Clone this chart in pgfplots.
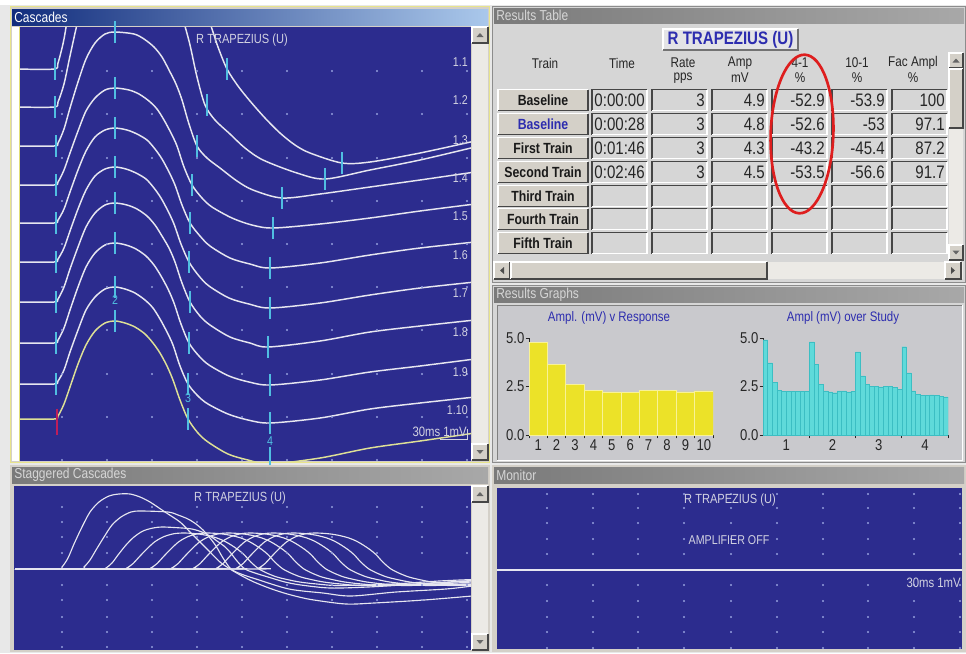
\documentclass[border=0pt]{standalone}
\usepackage{graphicx}
\usepackage{pgfplots}
\pgfplotsset{compat=1.18}
\usepackage{fontspec}
\setmainfont{Liberation Sans}

\definecolor{scope}{RGB}{44,44,142}
\definecolor{winbg}{RGB}{212,208,200}
\definecolor{panelbg}{RGB}{214,214,214}
\definecolor{graphbg}{RGB}{201,201,205}
\definecolor{trc}{RGB}{230,230,240}
\definecolor{trcY}{RGB}{222,224,150}
\definecolor{mk}{RGB}{80,190,225}
\definecolor{dotc}{RGB}{140,150,215}
\definecolor{ttlblue}{RGB}{45,45,175}
\definecolor{barY}{RGB}{236,226,40}
\definecolor{barYl}{RGB}{248,242,150}
\definecolor{barC}{RGB}{95,218,218}
\definecolor{barCd}{RGB}{60,190,195}
\definecolor{ovalred}{RGB}{222,30,30}
\definecolor{tbL}{RGB}{122,122,122}
\definecolor{tbR}{RGB}{168,168,168}
\definecolor{tbT}{RGB}{214,214,214}
\definecolor{dk}{RGB}{70,70,70}
\definecolor{lbl}{RGB}{210,210,225}
\definecolor{track}{RGB}{236,234,230}
\definecolor{outerbg}{RGB}{232,232,232}
\definecolor{casY}{RGB}{232,228,140}
\definecolor{casY2}{RGB}{225,222,120}
\definecolor{tbBL}{RGB}{18,45,125}
\definecolor{tbBR}{RGB}{170,200,235}
\definecolor{boxbg}{RGB}{228,228,230}
\definecolor{curred}{RGB}{190,30,90}

\newcommand{\st}[1]{\scalebox{1}[1.2]{#1}}
\newcommand{\fs}[1]{\fontsize{#1}{#1}\selectfont}
\newcommand{\sunken}[4]{%
  \fill[panelbg] (#1,#2) rectangle (#3,#4);
  \draw[dk, line width=1.1pt] (#1,#4) -- (#1,#2) -- (#3,#2);
  \draw[white, line width=0.8pt] (#3,#2) -- (#3,#4) -- (#1,#4);}
\newcommand{\raised}[4]{%
  \fill[winbg] (#1,#2) rectangle (#3,#4);
  \draw[white, line width=0.9pt] (#1,#4) -- (#1,#2) -- (#3,#2);
  \draw[dk, line width=1.1pt] (#3,#2) -- (#3,#4) -- (#1,#4);}
\newcommand{\uparr}[2]{\fill[black!60] (#1-3.5,#2+2) -- (#1+3.5,#2+2) -- (#1,#2-2) -- cycle;}
\newcommand{\dnarr}[2]{\fill[black!60] (#1-3.5,#2-2) -- (#1+3.5,#2-2) -- (#1,#2+2) -- cycle;}
\newcommand{\lfarr}[2]{\fill[black!70] (#1+2,#2-3.5) -- (#1+2,#2+3.5) -- (#1-2,#2) -- cycle;}
\newcommand{\rtarr}[2]{\fill[black!70] (#1-2,#2-3.5) -- (#1-2,#2+3.5) -- (#1+2,#2) -- cycle;}

\pgfplotsset{
  scopeax/.style={anchor=north west, scale only axis, hide axis, y dir=reverse, clip=true},
  tr/.style={trc, line width=1.1pt, smooth},
  str/.style={trc, line width=0.85pt, smooth},
  gdots/.style={only marks, mark=*, mark size=0.55pt, dotc},
  mks/.style={only marks, mark=|, mark size=8pt, mk, mark options={line width=0.9pt}},
  bargraph/.style={anchor=south west, scale only axis, height=72.75pt,
    ymin=0, ymax=5, axis x line*=bottom, axis y line*=left,
    axis line style={black!85, line width=0.7pt},
    ytick={0,2.5,5}, yticklabels={\st{0.0},\st{2.5},\st{5.0}},
    minor ytick={0,2.5,5},
    tick align=outside, major tick length=0pt, minor tick length=2.5pt,
    tick style={black!85, line width=0.6pt},
    tick label style={font=\fs{9.8}, text=black!85}},
}

\begin{document}
\begin{tikzpicture}[x=0.75pt,y=-0.75pt]
\path[use as bounding box] (0,0) rectangle (966,653);
\fill[outerbg] (0,0) rectangle (966,653);
\fill[white] (0,0) rectangle (966,5);

% ================= CASCADES PANEL =================
\fill[winbg] (10,6) rectangle (490,463);
\draw[casY, line width=1.2pt] (10.5,6.5) rectangle (489.5,462.5);
\shade[left color=tbBL, right color=tbBR] (12,9) rectangle (488,25);
\node[anchor=west, text=white, inner sep=0, font=\fs{9}] at (14,17) {\st{Cascades}};
\fill[scope] (20,27) rectangle (471,461);
\fill[white] (12,27) rectangle (19,461);
\draw[casY2, line width=1pt] (19.5,27) -- (19.5,461);
\fill[track] (472,27) rectangle (488,461);
\raised{472}{27}{488}{43}\uparr{480}{35}
\raised{472}{444}{488}{460}\dnarr{480}{452}

\begin{axis}[scopeax, at={(20,27)}, width=338.25pt, height=325.5pt,
  xmin=20, xmax=471, ymin=27, ymax=461]
\pgfplotsinvokeforeach{71,114,158,201,244,287,330,374,417,460}{
  \addplot[gdots] coordinates {(62,#1)(107,#1)(152,#1)(197,#1)(242,#1)(287,#1)(332,#1)(377,#1)(422,#1)(467,#1)};
}
% trace 1.1
\addplot[tr] coordinates {(18,69)(54,69)(58,63)(64,39)(70,2)(78,-44)(86,-84)(95,-113)(105,-129)(115,-133)(125,-133)(140,-128)(150,-112)(165,-86)(180,-58)(190,-31)(200,-4)(210,23)(218,47)(227,69)(238,86)(250,101)(265,118)(280,133)(295,145)(310,153)(342,163)(370,162)(420,153)(475,141)};
% trace 1.2
\addplot[tr] coordinates {(18,107)(54,107)(58,102)(64,84)(70,56)(78,20)(86,-12)(95,-33)(105,-46)(115,-49)(142,-46)(152,-40)(162,-29)(170,-15)(177,3)(184,23)(190,45)(197,77)(205,105)(215,120)(230,134)(245,148)(263,160)(297,173)(325,179)(370,170)(420,160)(475,147)};
% trace 1.3
\addplot[tr] coordinates {(18,146)(54,146)(58,143)(64,129)(70,108)(78,82)(86,59)(95,43)(105,34)(115,32)(134,34)(144,39)(154,47)(162,57)(169,70)(176,84)(182,100)(189,124)(197,146)(207,158)(220,168)(237,181)(253,190)(282,198)(320,194)(370,187)(420,180)(475,172)};
% trace 1.4
\addplot[tr] coordinates {(18,185)(54,185)(58,182)(64,170)(70,153)(78,131)(86,111)(95,98)(105,90)(115,88)(129,90)(139,94)(149,101)(157,109)(164,120)(171,133)(177,146)(184,167)(192,185)(202,198)(212,207)(232,218)(252,225)(273,228)(320,224)(370,218)(420,211)(475,204)};
% trace 1.5
\addplot[tr] coordinates {(18,223)(54,223)(58,220)(64,209)(70,192)(78,170)(86,151)(95,137)(105,130)(115,128)(127,130)(137,134)(147,140)(155,149)(162,159)(169,172)(175,185)(182,205)(190,223)(200,236)(210,246)(230,258)(250,264)(270,268)(320,263)(370,255)(420,248)(475,242)};
% trace 1.6
\addplot[tr] coordinates {(18,262)(54,262)(58,259)(64,248)(70,231)(78,209)(86,190)(95,176)(105,169)(115,167)(126,169)(136,173)(146,179)(154,188)(161,198)(168,211)(174,224)(181,244)(189,262)(199,276)(209,286)(229,298)(249,304)(270,308)(320,303)(370,295)(420,288)(475,282)};
% trace 1.7
\addplot[tr] coordinates {(18,302)(54,302)(58,299)(64,287)(70,269)(78,247)(86,227)(95,213)(105,205)(115,203)(127,205)(137,209)(147,216)(155,225)(162,236)(169,248)(175,262)(182,283)(190,302)(200,316)(210,325)(230,337)(250,343)(268,347)(320,341)(370,332)(420,326)(475,320)};
% trace 1.8
\addplot[tr] coordinates {(18,343)(54,343)(58,340)(64,328)(70,310)(78,287)(86,267)(95,253)(105,245)(115,243)(126,245)(136,249)(146,256)(154,265)(161,276)(168,289)(174,303)(181,324)(189,343)(199,356)(209,365)(229,376)(249,382)(270,385)(320,380)(370,372)(420,366)(475,359)};
% trace 1.9
\addplot[tr] coordinates {(18,384)(54,384)(58,381)(64,370)(70,352)(78,330)(86,310)(95,297)(105,289)(115,287)(125,289)(135,293)(145,300)(153,308)(160,319)(167,332)(173,345)(180,366)(188,384)(198,396)(208,404)(228,414)(248,420)(270,423)(320,418)(370,409)(420,403)(475,397)};
% trace 1.10 (highlighted)
\addplot[tr, trcY] coordinates {(18,419)(54,419)(58,416)(64,404)(70,387)(78,364)(86,345)(95,331)(105,323)(115,321)(125,323)(135,327)(145,334)(153,343)(160,353)(167,366)(173,380)(180,400)(188,419)(198,433)(208,442)(228,454)(248,460)(270,464)(320,458)(370,448)(420,441)(475,433)};
% cursors
\addplot[mks] coordinates {(55,69)(55,107)(56,146)(56,185)(56,223)(56,262)(56,302)(56,343)(56,384)};
\addplot[mks] coordinates {(115,32)(115,88)(115,128)(115,167)(115,203)(115,243)(115,287)(115,321)};
\addplot[mks] coordinates {(227,69)(207,105)(197,146)(192,185)(190,223)(189,262)(190,302)(189,343)(188,384)(188,419)};
\addplot[mks] coordinates {(342,163)(325,179)(282,198)(273,228)(270,268)(270,308)(268,347)(270,385)(270,423)(270,458)};
\addplot[only marks, mark=|, mark size=10pt, curred, mark options={line width=1pt}] coordinates {(57,422)};
\end{axis}

\node[text=lbl, font=\fs{8.3}, inner sep=0] at (242,40) {\st{R TRAPEZIUS (U)}};
\foreach \lab/\yy in {1.1/62,1.2/100,1.3/140,1.4/178,1.5/216,1.6/255,1.7/293,1.8/332,1.9/372,1.10/410}
  \node[anchor=east, text=lbl, font=\fs{8}, inner sep=0] at (468,\yy) {\st{\lab}};
\node[anchor=east, text=lbl, font=\fs{8.5}, inner sep=0] at (467,432) {\st{30ms 1mV}};
\draw[lbl, line width=0.7pt] (440,439) -- (467,439) -- (467,429);
\node[text=mk, font=\fs{8}, inner sep=0] at (115,300) {\st{2}};
\node[text=mk, font=\fs{8}, inner sep=0] at (188,398) {\st{3}};
\node[text=mk, font=\fs{8}, inner sep=0] at (270,441) {\st{4}};

% ================= STAGGERED CASCADES =================
\fill[winbg] (10,465) rectangle (490,652);
\shade[left color=tbL, right color=tbR] (12,467) rectangle (488,483);
\node[anchor=west, text=tbT, inner sep=0, font=\fs{9}] at (14,475) {\st{Staggered Cascades}};
\fill[scope] (14,486) rectangle (471,650);
\fill[track] (472,486) rectangle (488,650);
\raised{472}{486}{488}{502}\uparr{480}{494}
\raised{472}{634}{488}{650}\dnarr{480}{642}

\begin{axis}[scopeax, at={(14,486)}, width=342.75pt, height=123pt,
  xmin=14, xmax=471, ymin=486, ymax=650]
\pgfplotsinvokeforeach{507,522,537,553,585,600,617,632,647}{
  \addplot[gdots] coordinates {(62,#1)(107,#1)(152,#1)(197,#1)(242,#1)(287,#1)(332,#1)(377,#1)(422,#1)(467,#1)};
}
\addplot[str] coordinates {(15,569)(58,569)(62,567)(68,558)(74,544)(82,527)(90,512)(99,502)(109,496)(119,494)(130,494)(140,497)(150,502)(165,512)(180,522)(190,532)(200,542)(210,552)(220,562)(230,569)(242,576)(254,582)(269,588)(284,593)(299,597)(314,600)(346,604)(374,603)(424,600)(472,596)};
\addplot[str] coordinates {(15,569)(80,569)(84,567)(90,560)(96,550)(104,537)(112,525)(121,517)(131,512)(141,511)(168,512)(178,515)(188,519)(196,524)(203,530)(210,538)(216,546)(223,558)(231,569)(241,574)(256,579)(289,589)(323,593)(351,596)(396,592)(446,589)(472,586)};
\addplot[str] coordinates {(15,569)(102,569)(106,568)(112,563)(118,555)(126,545)(134,537)(143,531)(153,528)(163,527)(182,528)(192,529)(202,532)(210,536)(217,541)(224,546)(230,552)(237,561)(245,569)(255,573)(268,577)(285,582)(301,585)(330,588)(368,587)(418,584)(472,581)};
\addplot[str] coordinates {(15,569)(123,569)(127,567.9)(133,563.6)(139,557.1)(147,548.8)(155,541.6)(164,536.6)(174,533.7)(184,533)(196,533.7)(206,535.2)(216,537.7)(224,540.9)(231,544.9)(238,549.6)(244,554.6)(251,562.2)(259,569)(269,574)(279,577.6)(299,581.9)(319,584.2)(339,585.5)(389,584.2)(439,581)(472,579.5)};
\addplot[str] coordinates {(15,569)(147,569)(151,567.9)(157,563.6)(163,557.1)(171,548.8)(179,541.6)(188,536.6)(198,533.7)(208,533)(220,533.7)(230,535.2)(240,537.7)(248,540.9)(255,544.9)(262,549.6)(268,554.6)(275,562.2)(283,569)(293,574)(303,577.6)(323,581.9)(343,584.2)(363,585.5)(413,584.2)(463,581)(472,580.7)};
\addplot[str] coordinates {(15,569)(168,569)(172,567.9)(178,563.6)(184,557.1)(192,548.8)(200,541.6)(209,536.6)(219,533.7)(229,533)(241,533.7)(251,535.2)(261,537.7)(269,540.9)(276,544.9)(283,549.6)(289,554.6)(296,562.2)(304,569)(314,574)(324,577.6)(344,581.9)(364,584.2)(384,585.5)(434,584.2)(472,582)};
\addplot[str] coordinates {(15,569)(190,569)(194,567.9)(200,563.6)(206,557.1)(214,548.8)(222,541.6)(231,536.6)(241,533.7)(251,533)(263,533.7)(273,535.2)(283,537.7)(291,540.9)(298,544.9)(305,549.6)(311,554.6)(318,562.2)(326,569)(336,574)(346,577.6)(366,581.9)(386,584.2)(406,585.5)(456,584.2)(472,583.8)};
\addplot[str] coordinates {(15,569)(213,569)(217,567.9)(223,563.6)(229,557.1)(237,548.8)(245,541.6)(254,536.6)(264,533.7)(274,533)(286,533.7)(296,535.2)(306,537.7)(314,540.9)(321,544.9)(328,549.6)(334,554.6)(341,562.2)(349,569)(359,574)(369,577.6)(389,581.9)(409,584.2)(429,585.5)(472,584.5)};
\addplot[str] coordinates {(15,569)(233,569)(237,567.9)(243,563.6)(249,557.1)(257,548.8)(265,541.6)(274,536.6)(284,533.7)(294,533)(306,533.7)(316,535.2)(326,537.7)(334,540.9)(341,544.9)(348,549.6)(354,554.6)(361,562.2)(369,569)(379,574)(389,577.6)(409,581.9)(429,584.2)(449,585.5)(472,585.3)};
\addplot[str] coordinates {(15,569)(255,569)(259,567.9)(265,563.6)(271,557.1)(279,548.8)(287,541.6)(296,536.6)(306,533.7)(316,533)(328,533.7)(338,535.2)(348,537.7)(356,540.9)(363,544.9)(370,549.6)(376,554.6)(383,562.2)(391,569)(401,574)(411,577.6)(431,581.9)(451,584.2)(472,585.3)};
\end{axis}
\node[text=lbl, font=\fs{8.3}, inner sep=0] at (240,498) {\st{R TRAPEZIUS (U)}};

% ================= RESULTS TABLE =================
\fill[panelbg] (492,6) rectangle (966,283);
\draw[black!45] (492.5,6.5) rectangle (965.5,282.5);
\shade[left color=tbL, right color=tbR] (494,8) rectangle (964,23);
\node[anchor=west, text=tbT, inner sep=0, font=\fs{9}] at (496,15.5) {\st{Results Table}};
\fill[boxbg] (663,29) rectangle (798,50);
\draw[white, line width=0.8pt] (663,50) -- (663,29) -- (798,29);
\draw[black!55, line width=0.8pt] (798,29) -- (798,50) -- (663,50);
\node[text=ttlblue, font=\bfseries\fs{11.3}, inner sep=0] at (730.5,40) {\st{R TRAPEZIUS (U)}};
\begin{scope}[every node/.style={font=\fs{8.8}, text=black!85, inner sep=0}]
\node at (545,63) {\st{Train}};
\node at (622,63) {\st{Time}};
\node at (683,63) {\st{Rate}}; \node at (683,78) {\st{pps}};
\node at (740,63) {\st{Amp}}; \node at (740,78) {\st{mV}};
\node at (800,63) {\st{4-1}}; \node at (800,78) {\st{\%}};
\node at (857,63) {\st{10-1}}; \node at (857,78) {\st{\%}};
\node at (913,63) {\st{Fac Ampl}}; \node at (913,78) {\st{\%}};
\end{scope}
\foreach \yc in {100,124,148,172,196,219,243}{
  \raised{498}{\yc-10.5}{588}{\yc+10.5}
  \foreach \xa/\xb in {592/647,652/707,712/767,772/827,832/887,892/947}{
    \sunken{\xa}{\yc-10.5}{\xb}{\yc+10.5}
  }
}
\foreach \yc/\tt in {100/Baseline,148/First Train,172/Second Train,196/Third Train,219/Fourth Train,243/Fifth Train}
  \node[font=\bfseries\fs{9.2}, inner sep=0, text=black!90] at (543,\yc) {\st{\tt}};
\node[font=\bfseries\fs{9.2}, text=ttlblue, inner sep=0] at (543,124) {\st{Baseline}};
\foreach \yc/\vA/\vB/\vC/\vD/\vE/\vF in {100/0:00:00/3/4.9/-52.9/-53.9/100, 124/0:00:28/3/4.8/-52.6/-53/97.1, 148/0:01:46/3/4.3/-43.2/-45.4/87.2, 172/0:02:46/3/4.5/-53.5/-56.6/91.7}{
  \begin{scope}[every node/.style={anchor=east, font=\fs{11.3}, text=black!85, inner sep=0}]
  \node at (645,\yc) {\st{\vA}};
  \node at (705,\yc) {\st{\vB}};
  \node at (765,\yc) {\st{\vC}};
  \node at (825,\yc) {\st{\vD}};
  \node at (885,\yc) {\st{\vE}};
  \node at (945,\yc) {\st{\vF}};
  \end{scope}
}
% scrollbars
\fill[track] (949,53) rectangle (963,260);
\raised{949}{53}{963}{68}\uparr{956}{60.5}
\raised{949}{69}{963}{128}
\raised{949}{245}{963}{260}\dnarr{956}{252.5}
\fill[track] (494,262) rectangle (963,279);
\raised{494}{262}{510}{279}\lfarr{502}{270.5}
\raised{511}{262}{767}{279}
\raised{945}{262}{961}{279}\rtarr{953}{270.5}
% red oval
\draw[ovalred, line width=2pt, rotate around={-2:(802,134)}] (802,134) ellipse [x radius=23.5pt, y radius=59.5pt];

% ================= RESULTS GRAPHS =================
\fill[panelbg] (492,285) rectangle (966,463);
\draw[black!45] (492.5,285.5) rectangle (965.5,462.5);
\shade[left color=tbL, right color=tbR] (494,287) rectangle (964,302);
\node[anchor=west, text=tbT, inner sep=0, font=\fs{9}] at (496,294.5) {\st{Results Graphs}};
\fill[graphbg] (497,305) rectangle (962,460);
\draw[black!50] (497,460) -- (497,305) -- (962,305);
\draw[white] (962,305) -- (962,460) -- (497,460);
\node[text=ttlblue, font=\fs{8.6}, inner sep=0] at (609,318) {\st{Ampl. (mV) v Response}};
\node[text=ttlblue, font=\fs{8.6}, inner sep=0] at (843,318) {\st{Ampl (mV) over Study}};

\begin{scope}[shift={(529,435)}]
\begin{axis}[bargraph, at={(0pt,0pt)}, width=138pt, xmin=0.5, xmax=10.5,
  xtick={1,...,10}, xticklabels={\st{1},\st{2},\st{3},\st{4},\st{5},\st{6},\st{7},\st{8},\st{9},\st{10}},
  minor xtick={0.5,1.5,...,10.5}]
\addplot[ybar, bar width=1, fill=barY, draw=barYl, line width=0.5pt] coordinates {(1,4.78)(2,3.63)(3,2.6)(4,2.28)(5,2.22)(6,2.18)(7,2.28)(8,2.28)(9,2.22)(10,2.27)};
\end{axis}
\end{scope}

\begin{scope}[shift={(763,435)}]
\begin{axis}[bargraph, at={(0pt,0pt)}, width=138.75pt, xmin=0.5, xmax=40.5,
  xtick={5.5,15.5,25.5,35.5}, xticklabels={\st{1},\st{2},\st{3},\st{4}},
  minor xtick={10.5,20.5,30.5,40.5}]
\addplot[ybar, bar width=1, fill=barC, draw=barCd, line width=0.3pt] coordinates {
(1,4.9)(2,3.72)(3,2.72)(4,2.3)(5,2.26)(6,2.25)(7,2.25)(8,2.25)(9,2.25)(10,2.26)
(11,4.8)(12,3.65)(13,2.62)(14,2.28)(15,2.22)(16,2.18)(17,2.28)(18,2.28)(19,2.22)(20,2.26)
(21,4.28)(22,3.05)(23,2.6)(24,2.5)(25,2.5)(26,2.48)(27,2.5)(28,2.5)(29,2.44)(30,2.35)
(31,4.55)(32,3.2)(33,2.28)(34,2.1)(35,2.05)(36,2.05)(37,2.07)(38,2.05)(39,2.0)(40,1.97)};
\end{axis}
\end{scope}

% ================= MONITOR =================
\fill[winbg] (492,465) rectangle (966,652);
\shade[left color=tbL, right color=tbR] (494,467) rectangle (964,483);
\node[anchor=west, text=tbT, inner sep=0, font=\fs{9}] at (496,475) {\st{Monitor}};
\fill[scope] (497,488) rectangle (962,649);
\begin{axis}[scopeax, at={(497,488)}, width=348.75pt, height=120.75pt,
  xmin=497, xmax=962, ymin=488, ymax=649]
\pgfplotsinvokeforeach{494,508,523,539,554,585,601,617,632,648}{
  \addplot[gdots] coordinates {(547,#1)(593,#1)(638,#1)(684,#1)(731,#1)(777,#1)(823,#1)(868,#1)(914,#1)(960,#1)};
}
\addplot[trc, line width=0.9pt] coordinates {(497,570)(962,570)};
\end{axis}
\node[text=lbl, font=\fs{8.3}, inner sep=0] at (730,500) {\st{R TRAPEZIUS (U)}};
\node[text=lbl, font=\fs{8}, inner sep=0] at (729,540) {\st{AMPLIFIER OFF}};
\node[anchor=east, text=lbl, font=\fs{8.5}, inner sep=0] at (961,583) {\st{30ms 1mV}};
\end{tikzpicture}
\end{document}
